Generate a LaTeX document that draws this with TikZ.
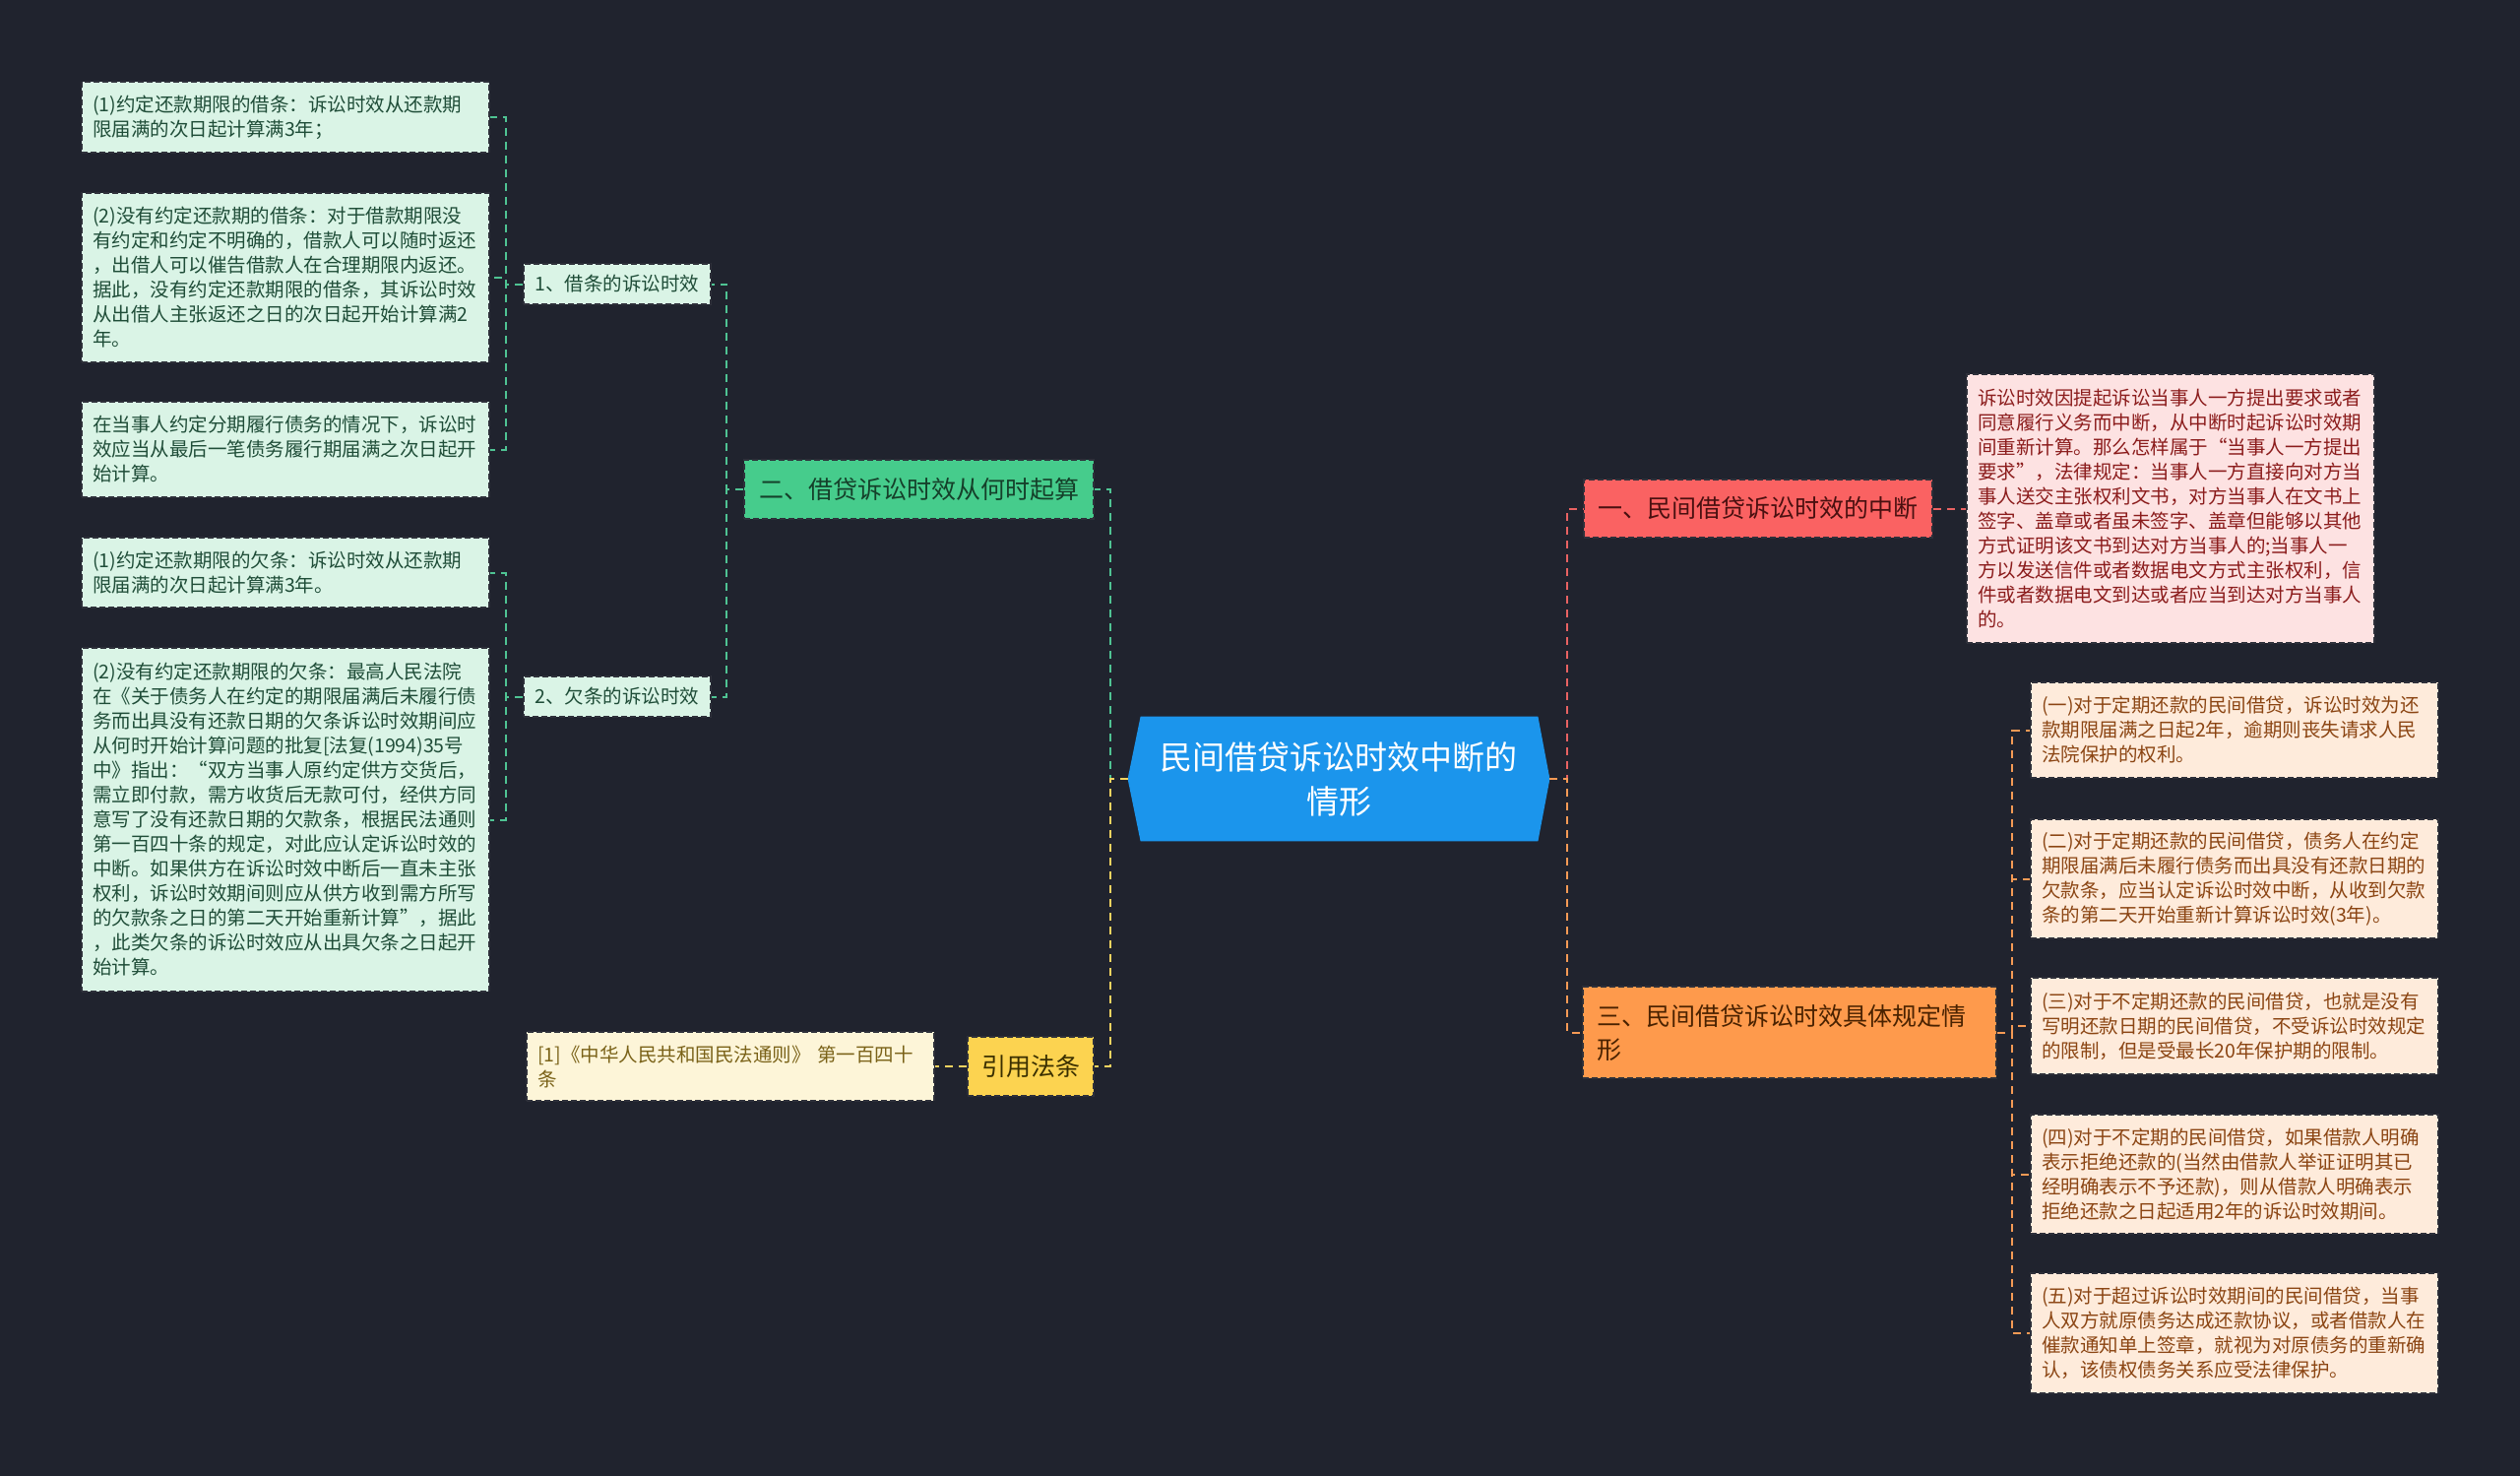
\documentclass[tikz,border=0pt]{standalone}
\usepackage{fontspec}
\newfontfamily\cjk{Noto Sans CJK SC}
\usetikzlibrary{calc}
\definecolor{bg}{HTML}{20232E}
\definecolor{cblue}{HTML}{1B95EC}
\definecolor{gfill}{HTML}{46CC8C}
\definecolor{gtext}{HTML}{15402A}
\definecolor{gline}{HTML}{4FC393}
\definecolor{lgfill}{HTML}{DAF4E6}
\definecolor{lgtext}{HTML}{1F4D38}
\definecolor{rfill}{HTML}{FA6262}
\definecolor{rtext}{HTML}{4A1010}
\definecolor{rline}{HTML}{E86262}
\definecolor{pfill}{HTML}{FDE2E2}
\definecolor{ptext}{HTML}{8B1C1C}
\definecolor{ofill}{HTML}{FE9A4C}
\definecolor{otext}{HTML}{4A2200}
\definecolor{oline}{HTML}{F59A55}
\definecolor{peach}{HTML}{FEEBDB}
\definecolor{peachtext}{HTML}{8B4513}
\definecolor{yfill}{HTML}{FCD350}
\definecolor{ytext}{HTML}{3A2F00}
\definecolor{yline}{HTML}{F5D360}
\definecolor{lyfill}{HTML}{FDF5D8}
\definecolor{lytext}{HTML}{7A6218}
\definecolor{darkborder}{HTML}{2E303A}
\tikzset{
  bdr/.style={draw=darkborder, line width=0.8pt, dash pattern=on 3pt off 1.5pt},
  smallfont/.style={font=\cjk\fontsize{9.75pt}{12.5pt}\selectfont},
  midfont/.style={font=\cjk\fontsize{12.5pt}{17pt}\selectfont},
  leafbox/.style={bdr, smallfont, text width=196pt, inner xsep=5.5pt, inner ysep=0pt, align=left},
  lgbox/.style={leafbox, fill=lgfill, text=lgtext},
  pbox/.style={leafbox, fill=pfill, text=ptext},
  peachbox/.style={leafbox, fill=peach, text=peachtext},
  subbox/.style={bdr, smallfont, fill=lgfill, text=lgtext, minimum width=95pt, minimum height=20.5pt, inner sep=0pt},
  branchbox/.style={bdr, midfont, inner sep=0pt, minimum height=30pt},
  con/.style={line width=1pt, dash pattern=on 4pt off 3pt},
  gcon/.style={con, draw=gline},
  ycon/.style={con, draw=yline},
  rcon/.style={con, draw=rline},
  ocon/.style={con, draw=oline},
}
\begin{document}
\begin{tikzpicture}[x=0.5pt,y=-0.5pt]
\fill[bg] (0,0) rectangle (2560,1499);
\useasboundingbox (0,0) rectangle (2560,1499);

% junction coordinates
\coordinate (j1) at (514,0);
\coordinate (j2) at (738,0);
\coordinate (jL) at (1128,0);
\coordinate (jR) at (1592,0);
\coordinate (jO) at (2044,0);

% center
\node[minimum width=214pt, minimum height=63pt, inner sep=0pt] (C) at (1360,791) {};
\fill[cblue] (C.west) -- ($(C.north west)+(13,0)$) -- ($(C.north east)+(-12,0)$) -- (C.east)
  -- ($(C.south east)+(-12,0)$) -- ($(C.south west)+(13,0)$) -- cycle;
\node[text=white, font=\cjk\fontsize{16.5pt}{22.5pt}\selectfont, align=center, inner sep=0pt] (Ct) at (1360,791) {民间借贷诉讼时效中断的\\情形};

% left leaves
\node[lgbox, minimum height=36pt] (L1a) at (290,119) {(1)约定还款期限的借条：诉讼时效从还款期\\限届满的次日起计算满3年；};
\node[lgbox, minimum height=86pt] (L1b) at (290,282) {(2)没有约定还款期的借条：对于借款期限没\\有约定和约定不明确的，借款人可以随时返还\\，出借人可以催告借款人在合理期限内返还。\\据此，没有约定还款期限的借条，其诉讼时效\\从出借人主张返还之日的次日起开始计算满2\\年。};
\node[lgbox, minimum height=48.5pt] (L1c) at (290,456.5) {在当事人约定分期履行债务的情况下，诉讼时\\效应当从最后一笔债务履行期届满之次日起开\\始计算。};
\node[lgbox, minimum height=35.5pt] (L2a) at (290,581.5) {(1)约定还款期限的欠条：诉讼时效从还款期\\限届满的次日起计算满3年。};
\node[lgbox, minimum height=174.5pt] (L2b) at (290,832.5) {(2)没有约定还款期限的欠条：最高人民法院\\在《关于债务人在约定的期限届满后未履行债\\务而出具没有还款日期的欠条诉讼时效期间应\\从何时开始计算问题的批复[法复(1994)35号\\中》指出：“双方当事人原约定供方交货后，\\需立即付款，需方收货后无款可付，经供方同\\意写了没有还款日期的欠款条，根据民法通则\\第一百四十条的规定，对此应认定诉讼时效的\\中断。如果供方在诉讼时效中断后一直未主张\\权利，诉讼时效期间则应从供方收到需方所写\\的欠款条之日的第二天开始重新计算”，据此\\，此类欠条的诉讼时效应从出具欠条之日起开\\始计算。};

% sub nodes
\node[subbox] (M1) at (627,288.5) {1、借条的诉讼时效};
\node[subbox] (M2) at (627,707.5) {2、欠条的诉讼时效};

% green branch
\node[branchbox, fill=gfill, text=gtext, minimum width=177.5pt] (G) at (933.5,497) {二、借贷诉讼时效从何时起算};

% yellow branch
\node[branchbox, fill=yfill, text=ytext, minimum width=64pt] (Y) at (1047,1083) {引用法条};
\node[leafbox, fill=lyfill, text=lytext, minimum height=35pt] (Ref) at (742,1083) {[1]《中华人民共和国民法通则》 第一百四十\\条};

% red branch
\node[branchbox, fill=rfill, text=rtext, minimum width=177pt, minimum height=29.5pt] (R1) at (1786,516.5) {一、民间借贷诉讼时效的中断};
\node[pbox, minimum height=136.5pt] (Rd) at (2205,516.5) {诉讼时效因提起诉讼当事人一方提出要求或者\\同意履行义务而中断，从中断时起诉讼时效期\\间重新计算。那么怎样属于“当事人一方提出\\要求”，法律规定：当事人一方直接向对方当\\事人送交主张权利文书，对方当事人在文书上\\签字、盖章或者虽未签字、盖章但能够以其他\\方式证明该文书到达对方当事人的;当事人一\\方以发送信件或者数据电文方式主张权利，信\\件或者数据电文到达或者应当到达对方当事人\\的。};

% orange branch
\node[branchbox, fill=ofill, text=otext, text width=196pt, inner xsep=7pt, align=left, minimum height=46.5pt] (R3) at (1818,1048.5) {三、民间借贷诉讼时效具体规定情\\形};
\node[peachbox, minimum height=48.5pt] (O1) at (2270,741.5) {(一)对于定期还款的民间借贷，诉讼时效为还\\款期限届满之日起2年，逾期则丧失请求人民\\法院保护的权利。};
\node[peachbox, minimum height=60.5pt] (O2) at (2270,892.5) {(二)对于定期还款的民间借贷，债务人在约定\\期限届满后未履行债务而出具没有还款日期的\\欠款条，应当认定诉讼时效中断，从收到欠款\\条的第二天开始重新计算诉讼时效(3年)。};
\node[peachbox, minimum height=49pt] (O3) at (2270,1042) {(三)对于不定期还款的民间借贷，也就是没有\\写明还款日期的民间借贷，不受诉讼时效规定\\的限制，但是受最长20年保护期的限制。};
\node[peachbox, minimum height=60.5pt] (O4) at (2270,1192.5) {(四)对于不定期的民间借贷，如果借款人明确\\表示拒绝还款的(当然由借款人举证证明其已\\经明确表示不予还款)，则从借款人明确表示\\拒绝还款之日起适用2年的诉讼时效期间。};
\node[peachbox, minimum height=61pt] (O5) at (2270,1354) {(五)对于超过诉讼时效期间的民间借贷，当事\\人双方就原债务达成还款协议，或者借款人在\\催款通知单上签章，就视为对原债务的重新确\\认，该债权债务关系应受法律保护。};

% connectors
\draw[gcon] (M1.west) -- (M1.west -| j1) |- (L1a.east);
\draw[gcon] (M1.west) -- (M1.west -| j1) |- (L1b.east);
\draw[gcon] (M1.west) -- (M1.west -| j1) |- (L1c.east);
\draw[gcon] (M2.west) -- (M2.west -| j1) |- (L2a.east);
\draw[gcon] (M2.west) -- (M2.west -| j1) |- (L2b.east);
\draw[gcon] (G.west) -- (G.west -| j2) |- (M1.east);
\draw[gcon] (G.west) -- (G.west -| j2) |- (M2.east);
\draw[gcon] (C.west) -- (C.west -| jL) |- (G.east);
\draw[ycon] (C.west) -- (C.west -| jL) |- (Y.east);
\draw[ycon] (Y.west) -- (Ref.east);
\draw[rcon] (C.east) -- (C.east -| jR) |- (R1.west);
\draw[rcon] (R1.east) -- (Rd.west);
\draw[ocon] (C.east) -- (C.east -| jR) |- (R3.west);
\draw[ocon] (R3.east) -- (R3.east -| jO) |- (O1.west);
\draw[ocon] (R3.east) -- (R3.east -| jO) |- (O2.west);
\draw[ocon] (R3.east) -- (R3.east -| jO) |- (O3.west);
\draw[ocon] (R3.east) -- (R3.east -| jO) |- (O4.west);
\draw[ocon] (R3.east) -- (R3.east -| jO) |- (O5.west);
\end{tikzpicture}
\end{document}
